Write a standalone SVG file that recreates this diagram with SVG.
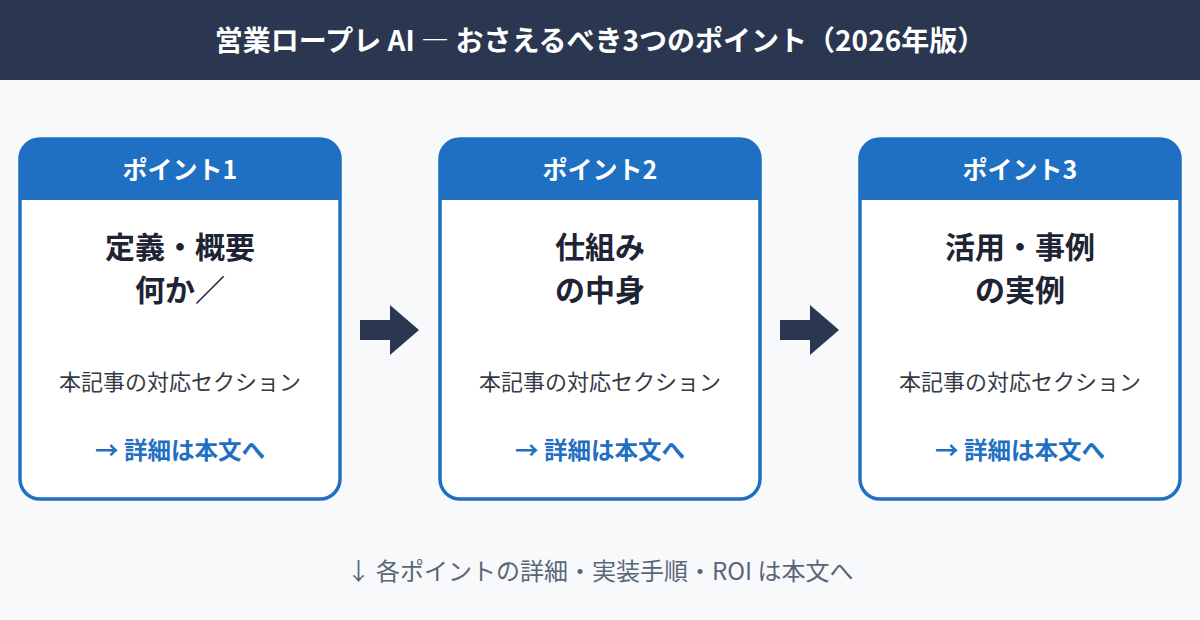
<svg xmlns="http://www.w3.org/2000/svg" width="1200" height="620" viewBox="0 0 1200 620">
<style>
text{font-family:"Noto Sans CJK JP","Noto Sans",sans-serif;text-anchor:middle}
.t{font-size:28px;font-weight:700;fill:#ffffff}
.h{font-size:25px;font-weight:700;fill:#ffffff}
.m{font-size:30px;font-weight:700;fill:#1e2433}
.s{font-size:22px;fill:#333a45}
.l{font-size:23.5px;font-weight:700;fill:#1f6fc2}
.f{font-size:24px;fill:#5b6577}
.card{fill:#ffffff;stroke:#1f6fc2;stroke-width:3.5}
.band{fill:#1f6fc2}
.arr{fill:#2b3650}
</style>
<defs>
<clipPath id="c1"><rect x="20" y="139" width="320" height="360" rx="20"/></clipPath>
<clipPath id="c2"><rect x="440" y="139" width="320" height="360" rx="20"/></clipPath>
<clipPath id="c3"><rect x="860" y="139" width="320" height="360" rx="20"/></clipPath>
</defs>
<rect width="1200" height="620" fill="#f7f9fb"/>
<rect width="1200" height="80" fill="#2b3650"/>
<text class="t" x="600" y="51">営業ロープレ AI ― おさえるべき3つのポイント（2026年版）</text>
<g id="node1">
<rect class="card" x="20" y="139" width="320" height="360" rx="20"/>
<rect class="band" x="20" y="139" width="320" height="61" clip-path="url(#c1)"/>
<text class="h" x="180" y="179">ポイント1</text>
<text class="m" x="180" y="258">定義・概要</text>
<text class="m" x="180" y="301">何か／</text>
<text class="s" x="180" y="390">本記事の対応セクション</text>
<text class="l" x="180" y="459">→ 詳細は本文へ</text>
</g>
<g id="node2">
<rect class="card" x="440" y="139" width="320" height="360" rx="20"/>
<rect class="band" x="440" y="139" width="320" height="61" clip-path="url(#c2)"/>
<text class="h" x="600" y="179">ポイント2</text>
<text class="m" x="600" y="258">仕組み</text>
<text class="m" x="600" y="301">の中身</text>
<text class="s" x="600" y="390">本記事の対応セクション</text>
<text class="l" x="600" y="459">→ 詳細は本文へ</text>
</g>
<g id="node3">
<rect class="card" x="860" y="139" width="320" height="360" rx="20"/>
<rect class="band" x="860" y="139" width="320" height="61" clip-path="url(#c3)"/>
<text class="h" x="1020" y="179">ポイント3</text>
<text class="m" x="1020" y="258">活用・事例</text>
<text class="m" x="1020" y="301">の実例</text>
<text class="s" x="1020" y="390">本記事の対応セクション</text>
<text class="l" x="1020" y="459">→ 詳細は本文へ</text>
</g>
<g id="connectors">
<polygon class="arr" points="360,320 390,320 390,305 419,330 390,355 390,340 360,340"/>
<polygon class="arr" points="780,320 810,320 810,305 839,330 810,355 810,340 780,340"/>
</g>
<text class="f" x="600" y="580">↓ 各ポイントの詳細・実装手順・ROI は本文へ</text>
</svg>
